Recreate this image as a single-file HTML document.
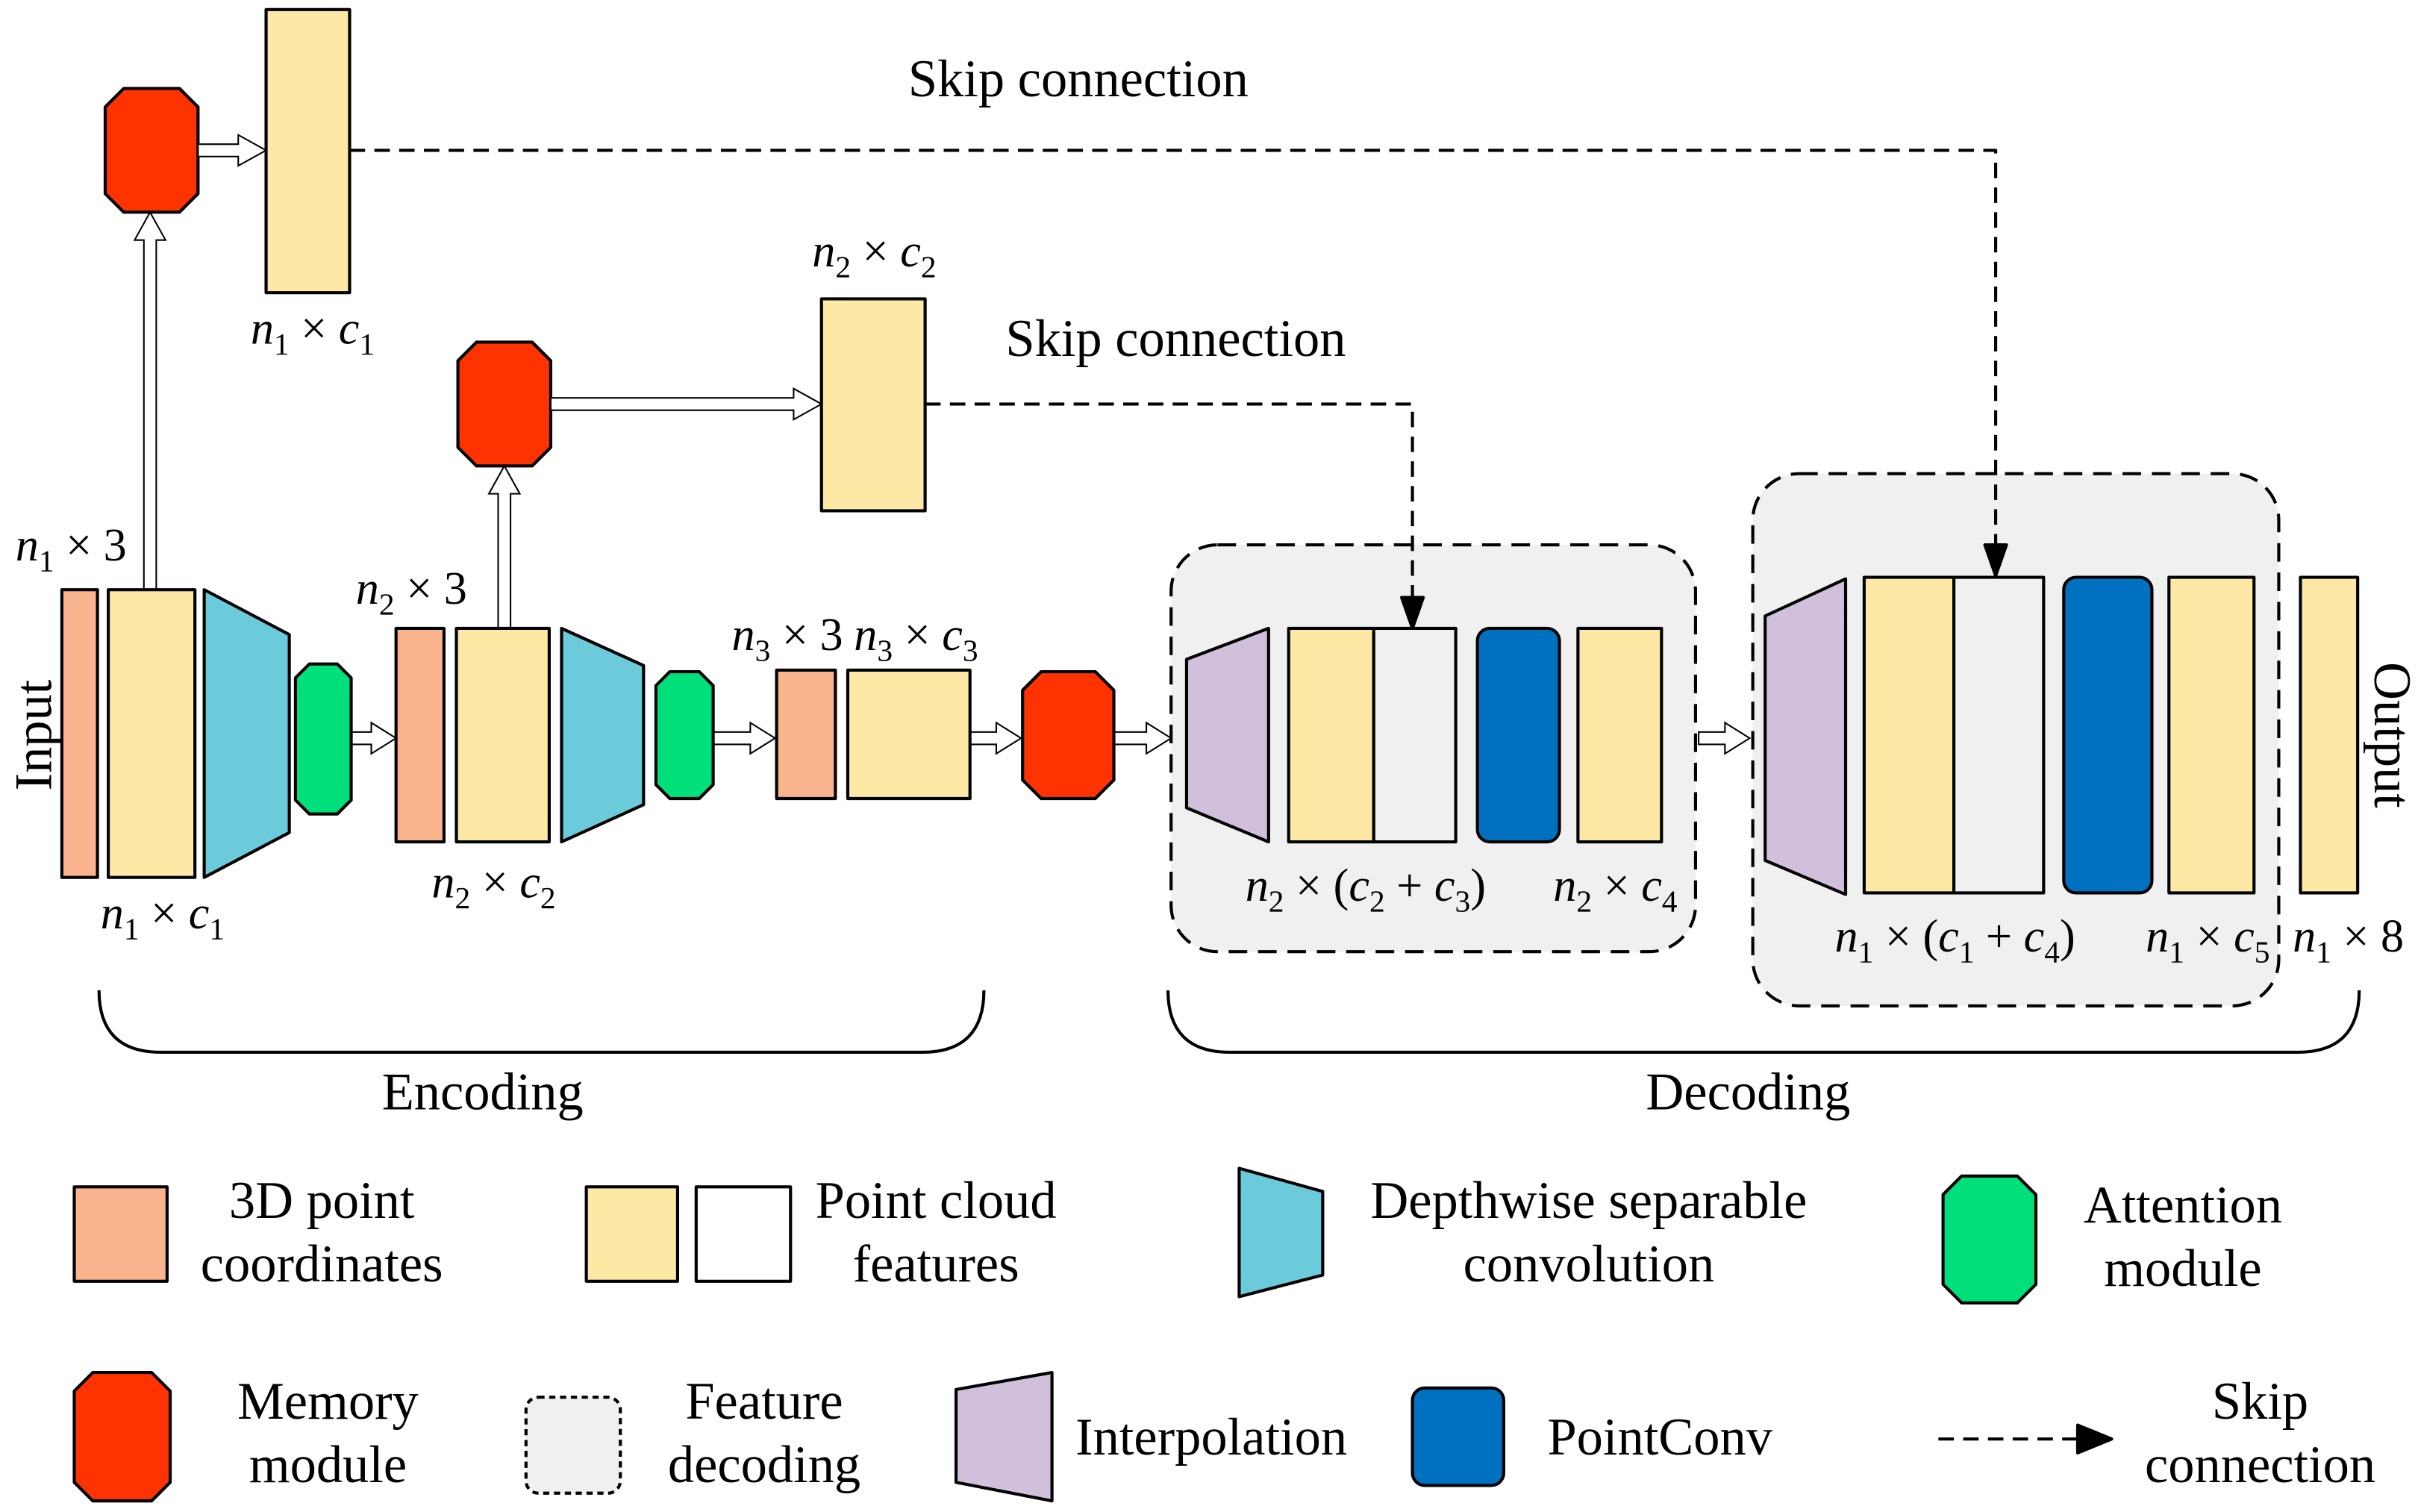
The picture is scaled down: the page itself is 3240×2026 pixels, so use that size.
<!DOCTYPE html>
<html><head><meta charset="utf-8"><style>html,body{margin:0;padding:0;background:#fff}svg{display:block}</style></head>
<body>
<svg width="3240" height="2026" viewBox="0 0 1563 977" xmlns="http://www.w3.org/2000/svg" font-family="Liberation Serif, serif" font-size="34">
<g stroke="#000" stroke-width="2" stroke-linejoin="round">
<rect x="757" y="352" width="339" height="263" rx="30" fill="#f0f0f0" stroke-dasharray="12 7"/>
<rect x="1133" y="306" width="340" height="344" rx="30" fill="#f0f0f0" stroke-dasharray="12 7"/>
<path d="M226 97 H1290 V368" fill="none" stroke-dasharray="10 6"/>
<path d="M1283 352 L1290 372 L1297 352 Z" fill="#000"/>
<path d="M598 261 H913 V402" fill="none" stroke-dasharray="10 6"/>
<path d="M906 386 L913 406 L920 386 Z" fill="#000"/>
<polygon points="80,57 116,57 128,69 128,125 116,137 80,137 68,125 68,69" fill="#ff3300"/>
<rect x="172" y="6" width="54" height="183" fill="#fde8a5"/>
<polygon points="308,221 344,221 356,233 356,289 344,301 308,301 296,289 296,233" fill="#ff3300"/>
<rect x="531" y="193" width="67" height="137" fill="#fde8a5"/>
</g>
<g stroke="#000" stroke-width="1" fill="#fff">
<path d="M128 93 H154 V87 L172 97 L154 107 V101 H128 Z"/>
<path d="M356 257 H513 V251 L531 261 L513 271 V265 H356 Z"/>
<path d="M93 381 V155 H87 L97 137 L107 155 H101 V381 Z"/>
<path d="M322 406 V319 H316 L326 301 L336 319 H330 V406 Z"/>
<path d="M227 473 H240 V467 L256 477 L240 487 V481 H227 Z"/>
<path d="M461 473 H485 V467 L501 477 L485 487 V481 H461 Z"/>
<path d="M627 473 H644 V467 L660 477 L644 487 V481 H627 Z"/>
<path d="M720 473 H741 V467 L757 477 L741 487 V481 H720 Z"/>
<path d="M1098 473 H1115 V467 L1131 477 L1115 487 V481 H1098 Z"/>
</g>
<g stroke="#000" stroke-width="2" stroke-linejoin="round">
<rect x="40" y="381" width="23" height="186" fill="#f9b48e"/>
<rect x="70" y="381" width="56" height="186" fill="#fde8a5"/>
<polygon points="132,381 187,410 187,538 132,567" fill="#6ccbda"/>
<polygon points="200,429 218,429 227,438 227,517 218,526 200,526 191,517 191,438" fill="#00e07a"/>
<rect x="256" y="406" width="31" height="138" fill="#f9b48e"/>
<rect x="295" y="406" width="60" height="138" fill="#fde8a5"/>
<polygon points="363,406 416,430 416,520 363,544" fill="#6ccbda"/>
<polygon points="433,434 452,434 461,443 461,507 452,516 433,516 424,507 424,443" fill="#00e07a"/>
<rect x="502" y="433" width="38" height="83" fill="#f9b48e"/>
<rect x="548" y="433" width="79" height="83" fill="#fde8a5"/>
<polygon points="673,434 708,434 720,446 720,504 708,516 673,516 661,504 661,446" fill="#ff3300"/>
<polygon points="767,426 820,406 820,544 767,522" fill="#d0c0dc"/>
<rect x="833" y="406" width="55" height="138" fill="#fde8a5"/>
<rect x="888" y="406" width="53" height="138" fill="#f0f0f0"/>
<rect x="955" y="406" width="53" height="138" rx="8" fill="#0070c0"/>
<rect x="1020" y="406" width="54" height="138" fill="#fde8a5"/>
<polygon points="1141,398 1193,374 1193,578 1141,556" fill="#d0c0dc"/>
<rect x="1205" y="373" width="58" height="204" fill="#fde8a5"/>
<rect x="1263" y="373" width="58" height="204" fill="#f0f0f0"/>
<rect x="1334" y="373" width="57" height="204" rx="8" fill="#0070c0"/>
<rect x="1402" y="373" width="55" height="204" fill="#fde8a5"/>
<rect x="1487" y="373" width="37" height="204" fill="#fde8a5"/>
<path d="M64 640 Q64 680 104 680 H596 Q636 680 636 640" fill="none"/>
<path d="M755 640 Q755 680 795 680 H1485 Q1525 680 1525 640" fill="none"/>
<rect x="48" y="767" width="60" height="61" fill="#f9b48e"/>
<rect x="379" y="767" width="59" height="61" fill="#fde8a5"/>
<rect x="450" y="767" width="61" height="61" fill="#fff"/>
<polygon points="801,755 855,770 855,824 801,838" fill="#6ccbda"/>
<polygon points="1268,760 1304,760 1316,772 1316,830 1304,842 1268,842 1256,830 1256,772" fill="#00e07a"/>
<polygon points="60,887 98,887 110,899 110,958 98,970 60,970 48,958 48,899" fill="#ff3300"/>
<rect x="340" y="903" width="61" height="62" rx="8" fill="#f0f0f0" stroke-dasharray="4 3"/>
<polygon points="618,898 680,887 680,970 618,958" fill="#d0c0dc"/>
<rect x="913" y="897" width="59" height="63" rx="8" fill="#0070c0"/>
<path d="M1253 930 H1345" fill="none" stroke-dasharray="10 6"/>
<path d="M1343 921 L1365 930 L1343 939 Z" fill="#000"/>
</g>
<g fill="#000">
<text x="697" y="62" text-anchor="middle">Skip connection</text>
<text x="760" y="230" text-anchor="middle">Skip connection</text>
<text x="312" y="717" text-anchor="middle">Encoding</text>
<text x="1130" y="717" text-anchor="middle">Decoding</text>
<text transform="translate(33,475) rotate(-90)" text-anchor="middle">Input</text>
<text transform="translate(1535,475) rotate(90)" text-anchor="middle">Output</text>
<g font-size="30">
<text x="10" y="362"><tspan font-style="italic">n</tspan><tspan font-size="20" dy="7">1</tspan><tspan dy="-7"> × 3</tspan></text>
<text x="230" y="390"><tspan font-style="italic">n</tspan><tspan font-size="20" dy="7">2</tspan><tspan dy="-7"> × 3</tspan></text>
<text x="473" y="420"><tspan font-style="italic">n</tspan><tspan font-size="20" dy="7">3</tspan><tspan dy="-7"> × 3</tspan></text>
<text x="552" y="420"><tspan font-style="italic">n</tspan><tspan font-size="20" dy="7">3</tspan><tspan dy="-7"> × </tspan><tspan font-style="italic">c</tspan><tspan font-size="20" dy="7">3</tspan></text>
<text x="162" y="222"><tspan font-style="italic">n</tspan><tspan font-size="20" dy="7">1</tspan><tspan dy="-7"> × </tspan><tspan font-style="italic">c</tspan><tspan font-size="20" dy="7">1</tspan></text>
<text x="525" y="172"><tspan font-style="italic">n</tspan><tspan font-size="20" dy="7">2</tspan><tspan dy="-7"> × </tspan><tspan font-style="italic">c</tspan><tspan font-size="20" dy="7">2</tspan></text>
<text x="65" y="600"><tspan font-style="italic">n</tspan><tspan font-size="20" dy="7">1</tspan><tspan dy="-7"> × </tspan><tspan font-style="italic">c</tspan><tspan font-size="20" dy="7">1</tspan></text>
<text x="279" y="580"><tspan font-style="italic">n</tspan><tspan font-size="20" dy="7">2</tspan><tspan dy="-7"> × </tspan><tspan font-style="italic">c</tspan><tspan font-size="20" dy="7">2</tspan></text>
<text x="805" y="582"><tspan font-style="italic">n</tspan><tspan font-size="20" dy="7">2</tspan><tspan dy="-7"> × (</tspan><tspan font-style="italic">c</tspan><tspan font-size="20" dy="7">2</tspan><tspan dy="-7"> + </tspan><tspan font-style="italic">c</tspan><tspan font-size="20" dy="7">3</tspan><tspan dy="-7">)</tspan></text>
<text x="1004" y="582"><tspan font-style="italic">n</tspan><tspan font-size="20" dy="7">2</tspan><tspan dy="-7"> × </tspan><tspan font-style="italic">c</tspan><tspan font-size="20" dy="7">4</tspan></text>
<text x="1186" y="615"><tspan font-style="italic">n</tspan><tspan font-size="20" dy="7">1</tspan><tspan dy="-7"> × (</tspan><tspan font-style="italic">c</tspan><tspan font-size="20" dy="7">1</tspan><tspan dy="-7"> + </tspan><tspan font-style="italic">c</tspan><tspan font-size="20" dy="7">4</tspan><tspan dy="-7">)</tspan></text>
<text x="1387" y="615"><tspan font-style="italic">n</tspan><tspan font-size="20" dy="7">1</tspan><tspan dy="-7"> × </tspan><tspan font-style="italic">c</tspan><tspan font-size="20" dy="7">5</tspan></text>
<text x="1482" y="615"><tspan font-style="italic">n</tspan><tspan font-size="20" dy="7">1</tspan><tspan dy="-7"> × 8</tspan></text>
</g>
<g text-anchor="middle">
<text x="208" y="787">3D point</text><text x="208" y="828">coordinates</text>
<text x="605" y="787">Point cloud</text><text x="605" y="828">features</text>
<text x="1027" y="787">Depthwise separable</text><text x="1027" y="828">convolution</text>
<text x="1411" y="790">Attention</text><text x="1411" y="831">module</text>
<text x="212" y="917">Memory</text><text x="212" y="958">module</text>
<text x="494" y="917">Feature</text><text x="494" y="958">decoding</text>
<text x="783" y="940">Interpolation</text>
<text x="1073" y="940">PointConv</text>
<text x="1461" y="917">Skip</text><text x="1461" y="958">connection</text>
</g>
</g>
</svg>
</body></html>
